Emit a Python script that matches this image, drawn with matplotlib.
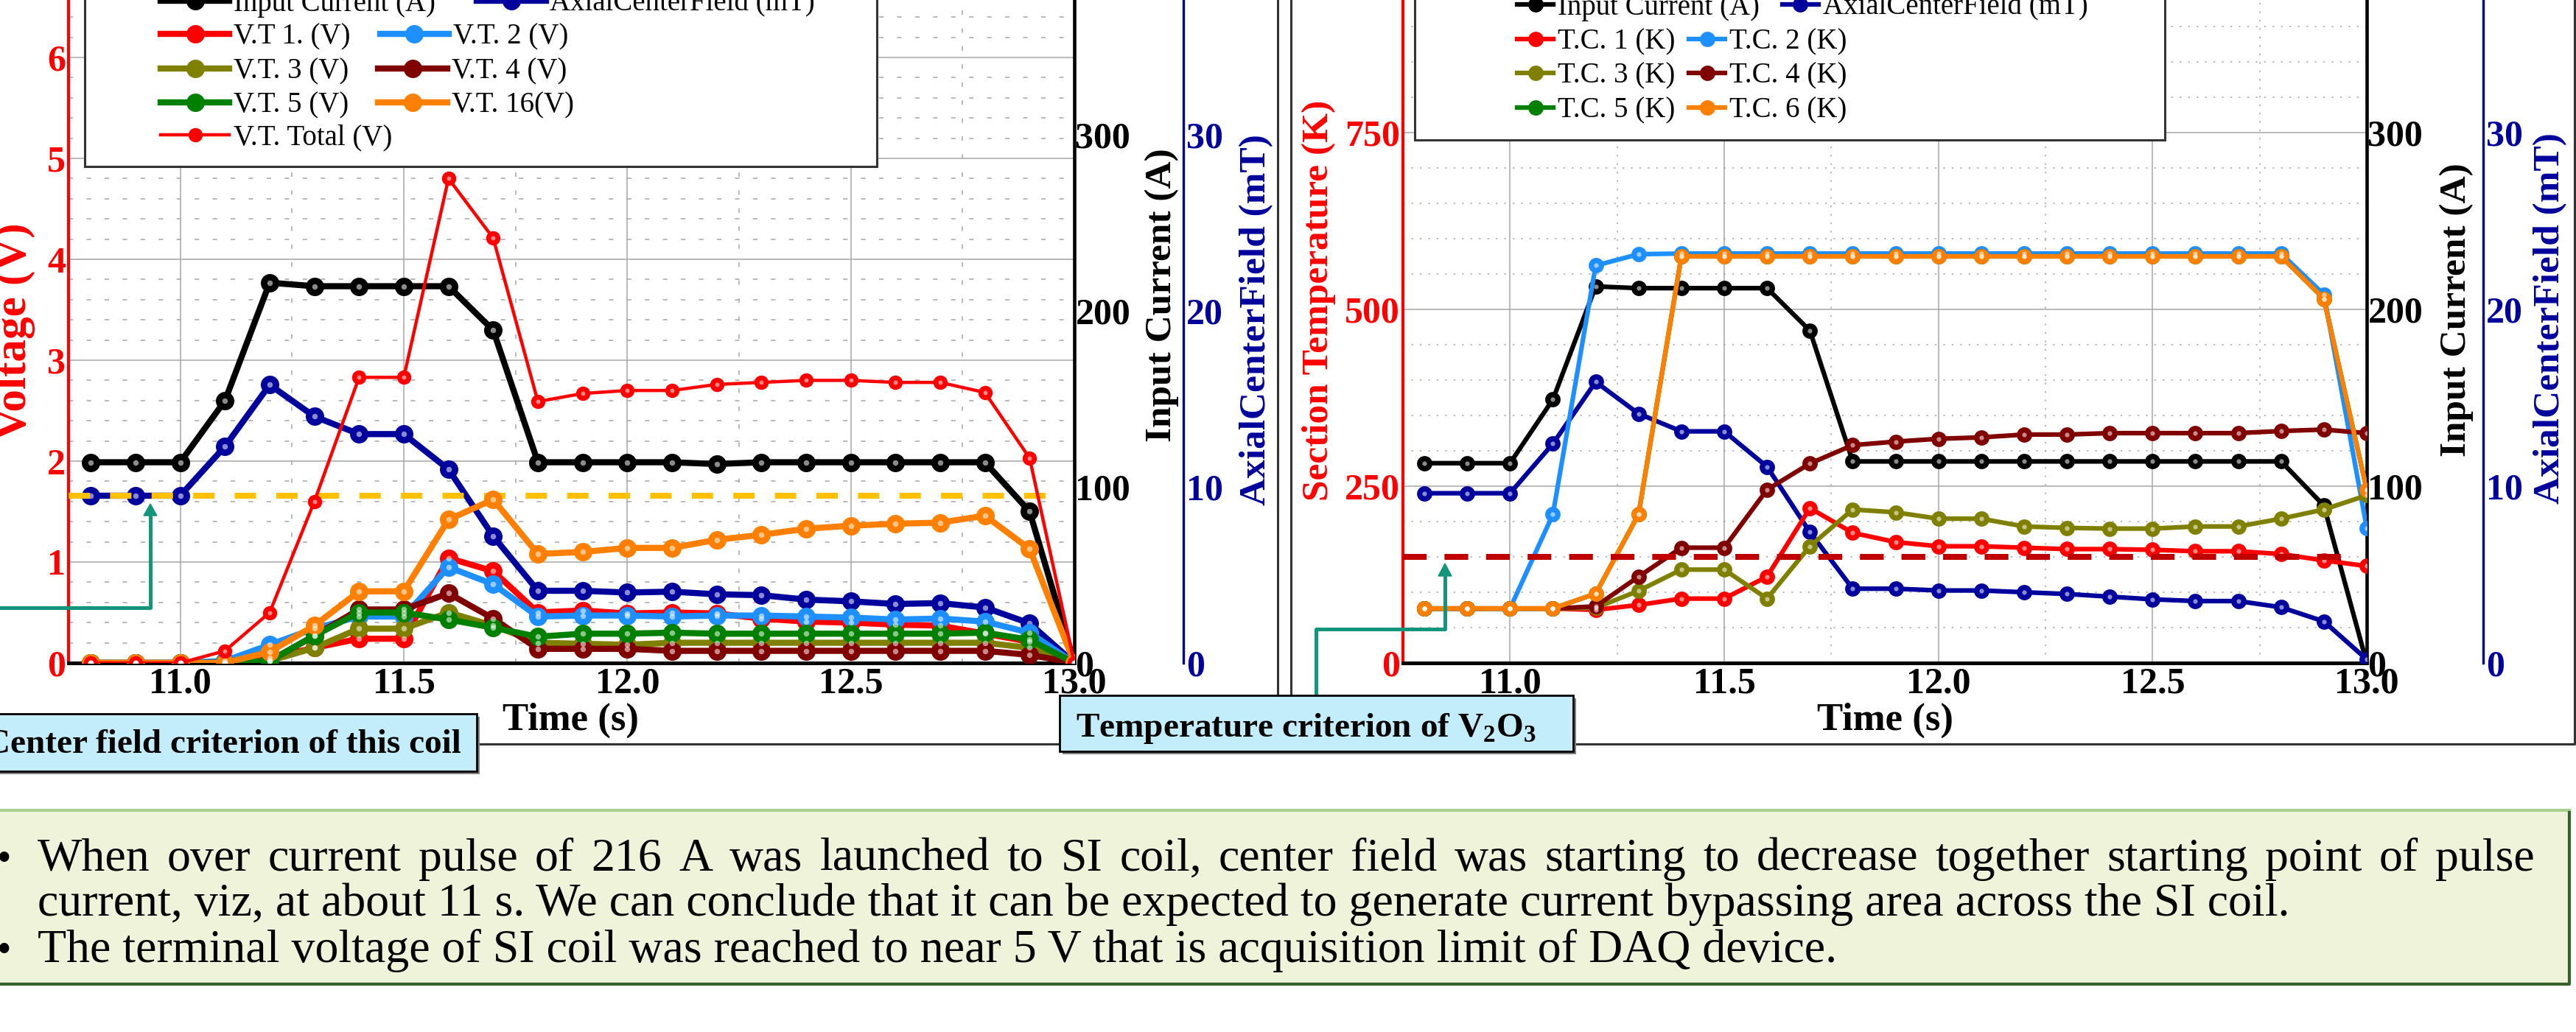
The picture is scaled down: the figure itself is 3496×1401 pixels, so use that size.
import matplotlib
matplotlib.use("Agg")
import matplotlib.pyplot as plt
from matplotlib.lines import Line2D
from matplotlib.patches import Rectangle, Polygon
from matplotlib.ticker import MultipleLocator, FormatStrFormatter

plt.rcParams['font.family'] = ['Liberation Serif', 'DejaVu Serif']
plt.rcParams['font.weight'] = 'bold'
plt.rcParams['mathtext.fontset'] = 'custom'
plt.rcParams['mathtext.rm'] = 'Liberation Serif'
plt.rcParams['mathtext.bf'] = 'Liberation Serif:bold'

W, H = 3496, 1401


def fx(x):
    return x / W


def fy(y):
    return 1 - y / H


# ---------------- data ----------------
time_s = [10.8, 10.9, 11.0, 11.1, 11.2, 11.3, 11.4, 11.5, 11.6, 11.7, 11.8, 11.9,
          12.0, 12.1, 12.2, 12.3, 12.4, 12.5, 12.6, 12.7, 12.8, 12.9, 13.0]

# left panel: voltage taps
current_l = [114, 114, 114, 149, 216, 214, 214, 214, 214, 189, 114, 114,
             114, 114, 113, 114, 114, 114, 114, 114, 114, 86, 0]
field_l = [9.5, 9.5, 9.5, 12.3, 15.8, 14.0, 13.0, 13.0, 11.0, 7.2, 4.1, 4.1,
           4.0, 4.05, 3.9, 3.85, 3.6, 3.5, 3.35, 3.4, 3.15, 2.25, 0.0]
vt1 = [0, 0, 0, 0, 0.05, 0.15, 0.24, 0.24, 1.04, 0.91, 0.50, 0.52,
       0.49, 0.50, 0.49, 0.44, 0.41, 0.40, 0.38, 0.37, 0.29, 0.21, 0]
vt2 = [0, 0, 0, 0.02, 0.18, 0.34, 0.46, 0.46, 0.95, 0.78, 0.46, 0.47,
       0.47, 0.46, 0.47, 0.47, 0.46, 0.45, 0.43, 0.44, 0.41, 0.30, 0]
vt3 = [0, 0, 0, 0, 0.02, 0.15, 0.34, 0.34, 0.50, 0.37, 0.20, 0.19,
       0.18, 0.20, 0.20, 0.20, 0.20, 0.20, 0.20, 0.20, 0.20, 0.15, 0]
vt4 = [0, 0, 0, 0, 0.02, 0.27, 0.53, 0.53, 0.69, 0.44, 0.14, 0.14,
       0.14, 0.12, 0.12, 0.12, 0.12, 0.12, 0.12, 0.12, 0.12, 0.08, 0]
vt5 = [0, 0, 0, 0, 0.02, 0.27, 0.50, 0.50, 0.43, 0.35, 0.26, 0.29,
       0.29, 0.30, 0.29, 0.29, 0.29, 0.29, 0.29, 0.29, 0.30, 0.23, 0]
vt16 = [0, 0, 0, 0, 0.11, 0.37, 0.71, 0.71, 1.42, 1.62, 1.08, 1.10,
        1.14, 1.14, 1.22, 1.27, 1.33, 1.36, 1.38, 1.39, 1.46, 1.13, 0]
vt_total = [0, 0, 0, 0.12, 0.50, 1.60, 2.83, 2.83, 4.80, 4.21, 2.59, 2.67,
            2.70, 2.70, 2.76, 2.78, 2.80, 2.80, 2.78, 2.78, 2.68, 2.03, 0]
field_criterion = 9.5  # mT

# right panel: thermocouples
current_r = [113, 113, 113, 149, 213, 212, 212, 212, 212, 188, 114, 114,
             114, 114, 114, 114, 114, 114, 114, 114, 114, 89, 0]
field_r = [9.6, 9.6, 9.6, 12.4, 15.9, 14.1, 13.1, 13.1, 11.1, 7.4, 4.2, 4.2,
           4.1, 4.1, 4.0, 3.9, 3.75, 3.6, 3.5, 3.5, 3.15, 2.35, 0.2]
tc1 = [77, 77, 77, 77, 75, 82, 91, 91, 122, 219, 184, 171,
       165, 165, 163, 161, 161, 160, 158, 158, 154, 145, 137]
tc2 = [77, 77, 77, 210, 562, 578, 579, 579, 579, 579, 579, 579,
       579, 579, 579, 579, 579, 579, 579, 579, 579, 521, 191]
tc3 = [77, 77, 77, 77, 78, 102, 132, 132, 91, 165, 217, 213,
       204, 204, 193, 191, 190, 190, 193, 193, 204, 217, 237]
tc4 = [77, 77, 77, 77, 80, 122, 163, 163, 245, 282, 308, 313,
       317, 319, 323, 323, 325, 325, 325, 325, 328, 330, 325]
tc5 = [77, 77, 77, 77, 98, 210, 575, 575, 575, 575, 575, 575,
       575, 575, 575, 575, 575, 575, 575, 575, 575, 515, 245]
tc6 = [77, 77, 77, 77, 98, 210, 575, 575, 575, 575, 575, 575,
       575, 575, 575, 575, 575, 575, 575, 575, 575, 515, 245]
temp_criterion = 150  # K

NAVY = '#00009c'
GRID = '#a6a6a6'

fig = plt.figure(figsize=(W / 100, H / 100), dpi=100)


def setup_panel(x0, x1, vmax, vmaj, vmin, imax, bmax, boff, mcolor, dots):
    ax = fig.add_axes([fx(x0), fy(900), (x1 - x0) / W, 900 / H])
    ax.set_xlim(10.75, 13.0)
    ax.set_ylim(0, vmax)
    ax.xaxis.set_major_locator(MultipleLocator(0.5))
    ax.xaxis.set_minor_locator(MultipleLocator(0.25))
    ax.xaxis.set_major_formatter(FormatStrFormatter('%.1f'))
    ax.yaxis.set_major_locator(MultipleLocator(vmaj))
    ax.yaxis.set_minor_locator(MultipleLocator(vmin))
    ax.grid(which='major', color=GRID, lw=1.1)
    ax.grid(which='minor', color=GRID, lw=1.1, ls=dots)
    ax.set_axisbelow(True)
    ax.tick_params(which='both', length=0)
    ax.tick_params(axis='x', labelsize=36, pad=4)
    ax.tick_params(axis='y', labelsize=36, labelcolor=mcolor, pad=3)
    ax.spines['left'].set_color(mcolor)
    ax.spines['left'].set_linewidth(3)
    ax.spines['bottom'].set_linewidth(3.6)
    ax.spines['top'].set_visible(False)
    ax.spines['right'].set_visible(False)

    ax_i = ax.twinx()
    ax_i.set_ylim(0, imax)
    ax_i.yaxis.set_major_locator(MultipleLocator(100))
    ax_i.tick_params(axis='y', length=0, labelsize=36, pad=1)
    for s in ['left', 'top', 'bottom']:
        ax_i.spines[s].set_visible(False)
    ax_i.spines['right'].set_linewidth(3.3)

    ax_b = ax.twinx()
    ax_b.set_ylim(0, bmax)
    ax_b.yaxis.set_major_locator(MultipleLocator(10))
    ax_b.tick_params(axis='y', length=0, labelsize=36, labelcolor=NAVY, pad=3)
    for s in ['left', 'top', 'bottom']:
        ax_b.spines[s].set_visible(False)
    ax_b.spines['right'].set_position(('axes', 1 + boff / (x1 - x0)))
    ax_b.spines['right'].set_color(NAVY)
    ax_b.spines['right'].set_linewidth(2.4)

    ax_top = ax.twinx()
    ax_top.set_ylim(0, vmax)
    ax_top.yaxis.set_visible(False)
    for s in ax_top.spines.values():
        s.set_visible(False)
    return ax, ax_i, ax_b, ax_top


def series(axis, y, color, lw, ms):
    line, = axis.plot(time_s, y, color=color, lw=lw, marker='o', ms=ms, mew=0, zorder=3)
    axis.plot(time_s, y, ls='none', marker='o', ms=ms * 0.3, color='white',
              alpha=0.55, mew=0, zorder=3.1)
    return line


# ---------------- left panel ----------------
axL, axL_i, axL_b, axL_v = setup_panel(93, 1458, 900 / 137, 1, 0.2, 900 / 2.39, 90 / 2.39,
                                       148, 'red', (0, (4, 12)))
h_cur = series(axL_i, current_l, 'black', 6, 18)
h_fld = series(axL_b, field_l, NAVY, 6, 18)
axL_b.hlines(field_criterion, 10.75, 12.98, color='#ffc000', lw=5.8,
             linestyles=[(0, (3.6, 3.4))], zorder=5)
h_vt1 = series(axL_v, vt1, '#ff0000', 6, 18)
h_vt2 = series(axL_v, vt2, '#1e8fff', 6, 18)
h_vt3 = series(axL_v, vt3, '#808000', 6, 18)
h_vt4 = series(axL_v, vt4, '#800000', 6, 18)
h_vt5 = series(axL_v, vt5, '#008000', 6, 18)
h_vt16 = series(axL_v, vt16, '#ff8000', 6, 18)
h_tot = series(axL_v, vt_total, '#ff0000', 3.2, 14)

# ---------------- right panel ----------------
axR, axR_i, axR_b, axR_t = setup_panel(1904, 3212, 937.5, 250, 50, 375, 37.5,
                                       158, 'red', (0, (1.5, 6)))
r_cur = series(axR_i, current_r, 'black', 4.5, 15)
r_fld = series(axR_b, field_r, NAVY, 4.5, 15)
r_tc1 = series(axR_t, tc1, '#ff0000', 4.5, 15)
r_tc2 = series(axR_t, tc2, '#1e8fff', 4.5, 15)
r_tc3 = series(axR_t, tc3, '#808000', 4.5, 15)
r_tc4 = series(axR_t, tc4, '#800000', 4.5, 15)
r_tc5 = series(axR_t, tc5, '#008000', 4.5, 15)
r_tc6 = series(axR_t, tc6, '#ff8000', 4.5, 15)
axR_t.hlines(temp_criterion, 10.75, 12.98, color='#c00000', lw=5.8,
             linestyles=[(0, (4, 3))], zorder=5)

# ---------------- axis labels ----------------
lab = dict(ha='center', va='center', rotation=90, fontweight='bold')
fig.text(fx(20), fy(450), 'Voltage (V)', color='red', fontsize=44, **lab)
fig.text(fx(1577), fy(401), 'Input Current (A)', color='black', fontsize=37, **lab)
fig.text(fx(1705), fy(434), 'AxialCenterField (mT)', color=NAVY, fontsize=37, **lab)
fig.text(fx(1790), fy(408), 'Section Temperature (K)', color='red', fontsize=37, **lab)
fig.text(fx(3334), fy(421), 'Input Current (A)', color='black', fontsize=37, **lab)
fig.text(fx(3461), fy(432), 'AxialCenterField (mT)', color=NAVY, fontsize=37, **lab)
fig.text(fx(775), fy(978), 'Time (s)', ha='center', va='center', fontsize=38)
fig.text(fx(2558), fy(978), 'Time (s)', ha='center', va='center', fontsize=38)

# ---------------- panel frames ----------------
fr = dict(color='#333333', lw=2.2, transform=fig.transFigure, zorder=1.5)
fig.add_artist(Line2D([fx(-10), fx(1734), fx(1734)], [fy(1010), fy(1010), fy(-10)], **fr))
fig.add_artist(Line2D([fx(1752), fx(1752), fx(3494), fx(3494)],
                      [fy(-10), fy(1010), fy(1010), fy(-10)], **fr))

# ---------------- legends ----------------
fig.add_artist(Rectangle((fx(115), fy(226)), (1190 - 115) / W, 240 / H, transform=fig.transFigure,
                         facecolor='white', edgecolor='#333333', lw=2.2, zorder=1))
fig.add_artist(Rectangle((fx(1920), fy(190)), (2938 - 1920) / W, 204 / H, transform=fig.transFigure,
                         facecolor='white', edgecolor='#333333', lw=2.2, zorder=1))


def legend_row(handles, labels, x, y, hl, colsp):
    fig.legend(handles, labels, loc='center left', bbox_to_anchor=(fx(x), fy(y)),
               ncol=len(handles), frameon=False, prop={'size': 28, 'weight': 'normal'},
               handlelength=hl, handletextpad=0.15, columnspacing=colsp,
               borderpad=0, borderaxespad=0)


legend_row([h_cur, h_fld], ['Input Current (A)', 'AxialCenterField (mT)'], 218, 5, 2.4, 1.44)
legend_row([h_vt1, h_vt2], ['V.T 1. (V)', 'V.T. 2 (V)'], 218, 50, 2.4, 1.03)
legend_row([h_vt3, h_vt4], ['V.T. 3 (V)', 'V.T. 4 (V)'], 218, 97, 2.4, 1.03)
legend_row([h_vt5, h_vt16], ['V.T. 5 (V)', 'V.T. 16(V)'], 218, 143, 2.4, 1.03)
legend_row([h_tot], ['V.T. Total (V)'], 218, 187, 2.4, 1.0)

legend_row([r_cur, r_fld], ['Input Current (A)', 'AxialCenterField (mT)'], 2059, 10, 1.26, 0.8)
legend_row([r_tc1, r_tc2], ['T.C. 1 (K)', 'T.C. 2 (K)'], 2059, 57, 1.26, 0.49)
legend_row([r_tc3, r_tc4], ['T.C. 3 (K)', 'T.C. 4 (K)'], 2059, 103, 1.26, 0.49)
legend_row([r_tc5, r_tc6], ['T.C. 5 (K)', 'T.C. 6 (K)'], 2059, 150, 1.26, 0.49)

# ---------------- callouts ----------------
TEAL = '#12957a'
arr = dict(color=TEAL, lw=3.6, transform=fig.transFigure, zorder=2)
fig.add_artist(Line2D([fx(-10), fx(204), fx(204)], [fy(825), fy(825), fy(698)], **arr))
fig.add_artist(Polygon([(fx(195), fy(700)), (fx(213), fy(700)), (fx(204), fy(684))],
                       closed=True, color=TEAL, transform=fig.transFigure, zorder=2))
fig.add_artist(Line2D([fx(1786), fx(1786), fx(1961), fx(1961)],
                      [fy(944), fy(854), fy(854), fy(780)], **arr))
fig.add_artist(Polygon([(fx(1952), fy(782)), (fx(1970), fy(782)), (fx(1961), fy(765))],
                       closed=True, color=TEAL, transform=fig.transFigure, zorder=2))


def callout(x0, x1, y0, y1):
    fig.add_artist(Rectangle((fx(x0 + 4), fy(y1 + 4)), (x1 - x0) / W, (y1 - y0) / H,
                             transform=fig.transFigure, facecolor='#7f7f7f', lw=0, zorder=2.4))
    fig.add_artist(Rectangle((fx(x0), fy(y1)), (x1 - x0) / W, (y1 - y0) / H,
                             transform=fig.transFigure, facecolor='#c3edfb',
                             edgecolor='black', lw=2, zorder=2.5))


callout(-10, 647, 969, 1047)
fig.text(fx(626), fy(1022), 'Center field criterion of this coil', ha='right', va='baseline',
         fontsize=34, zorder=3)
callout(1438, 2135, 944, 1020)
fig.text(fx(1460), fy(1000), r'Temperature criterion of V$_\mathbf{2}$O$_\mathbf{3}$',
         ha='left', va='baseline', fontsize=34, zorder=3)

# ---------------- summary box ----------------
fig.add_artist(Rectangle((fx(-10), fy(1336)), (3487 + 10) / W, (1336 - 1099) / H,
                         transform=fig.transFigure, facecolor='#eff3da', lw=0, zorder=1))
fig.add_artist(Line2D([fx(-10), fx(3487)], [fy(1100), fy(1100)], color='#a9d18e', lw=3,
                      transform=fig.transFigure, zorder=1.2))
fig.add_artist(Line2D([fx(-10), fx(3487), fx(3487)], [fy(1336), fy(1336), fy(1103)],
                      color='#38622b', lw=3, transform=fig.transFigure, zorder=1.2))

txt = dict(fontsize=46, fontweight='normal', va='baseline', ha='left', zorder=3)
line1 = ('When over current pulse of 216 A was launched to SI coil, center field was starting '
         'to decrease together starting point of pulse').split()
line2 = ('current, viz, at about 11 s. We can conclude that it can be expected to generate '
         'current bypassing area across the SI coil.')
line3 = 'The terminal voltage of SI coil was reached to near 5 V that is acquisition limit of DAQ device.'

words = [fig.text(0, fy(1182), w, **txt) for w in line1]
renderer = fig.canvas.get_renderer()
widths = [t.get_window_extent(renderer).width for t in words]
gap = (3440 - 51 - sum(widths)) / (len(words) - 1)
xpos = 51
for t, w in zip(words, widths):
    t.set_x(fx(xpos))
    xpos += w + gap
fig.text(fx(51), fy(1243), line2, **txt)
fig.text(fx(51), fy(1306), line3, **txt)
fig.text(fx(6), fy(1182), '\u2022', ha='center', va='baseline', fontsize=40, fontweight='normal')
fig.text(fx(6), fy(1306), '\u2022', ha='center', va='baseline', fontsize=40, fontweight='normal')

fig.savefig('out.png', dpi=100)
